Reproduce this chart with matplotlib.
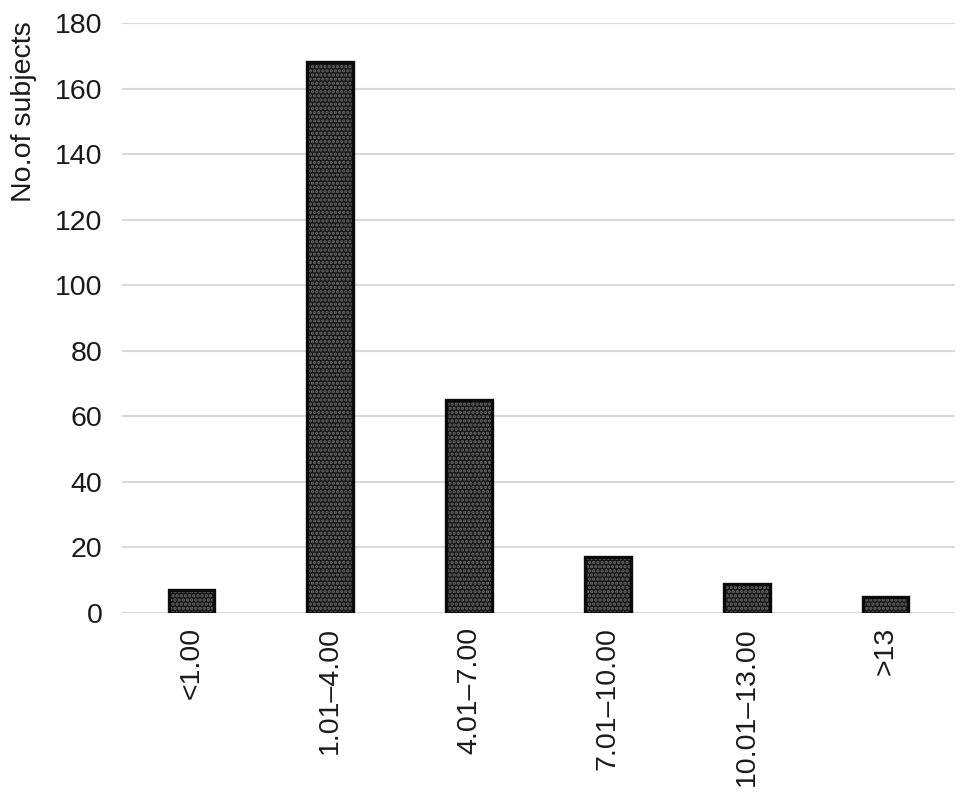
import numpy as np
import matplotlib
matplotlib.use("Agg")
import matplotlib.pyplot as plt

plt.rcParams['font.family'] = ['Liberation Sans', 'DejaVu Sans']
plt.rcParams['hatch.linewidth'] = 1.6

categories = ['<1.00', '1.01–4.00', '4.01–7.00', '7.01–10.00', '10.01–13.00', '>13']
subjects = [7, 168, 65, 17, 9, 5]
y_ticks = [0, 20, 40, 60, 80, 100, 120, 140, 160, 180]

fig = plt.figure(figsize=(9.69, 7.98), dpi=100)
ax = fig.add_axes([122 / 969, 1 - 613 / 798, (955 - 122) / 969, (613 - 23) / 798])

x = np.arange(len(categories))
# dotted fill, then a black outline on top
ax.bar(x, subjects, width=0.33, color='#181818', edgecolor='#6a6a6a',
       hatch='....', linewidth=0, zorder=3)
ax.bar(x, subjects, width=0.33, fill=False, edgecolor='#0a0a0a',
       linewidth=2.4, zorder=4)

ax.set_xlim(-0.5, len(categories) - 0.5)
ax.set_ylim(0, 180)
ax.set_yticks(y_ticks)
ax.set_xticks(x)
ax.set_xticklabels(categories, rotation=90, fontsize=20.5)
ax.tick_params(axis='y', labelsize=20.5, length=0, pad=14, labelcolor='#1a1a1a')
ax.tick_params(axis='x', length=0, pad=10, labelcolor='#1a1a1a')
ax.grid(axis='y', color='#d9d9d9', linewidth=1.5, zorder=0)
for s in ax.spines.values():
    s.set_visible(False)
ax.set_ylabel('No.of subjects', fontsize=20.5, color='#1a1a1a')
ax.yaxis.set_label_coords(-0.118, 0.85)
ax.yaxis.label.set_va('center')

fig.savefig('out.png', dpi=100)
